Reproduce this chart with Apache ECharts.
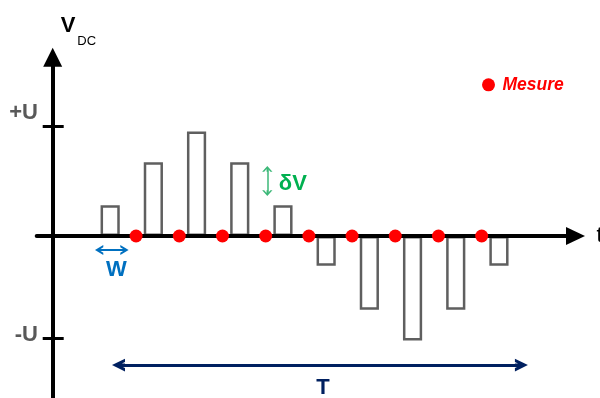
<!DOCTYPE html>
<html>
<head>
<meta charset="utf-8">
<script src="https://cdn.jsdelivr.net/npm/echarts@6/dist/echarts.min.js"></script>
<style>
html,body{margin:0;padding:0;background:#fff;}
#main{width:600px;height:398px;}
</style>
</head>
<body>
<div id="main"></div>
<script>
// ---- data ----
const pulseX = [1.33, 2.33, 3.33, 4.33, 5.33, 6.33, 7.33, 8.33, 9.33, 10.33];
const pulseV = [0.28, 0.67, 0.95, 0.67, 0.28, -0.27, -0.67, -0.95, -0.67, -0.27];
const mesureX = [1.93, 2.93, 3.93, 4.93, 5.93, 6.93, 7.93, 8.93, 9.93];
const mesureV = [0, 0, 0, 0, 0, 0, 0, 0, 0];
const tickValues = [1, -0.93];
const tickLabels = ['+U', '-U'];
const seriesName = 'Mesure';

const FONT = 'Liberation Sans, Arial, sans-serif';

function chevron(w, h, t, s) {
  const th = Math.atan((w / 2) / h);
  const v = t / Math.sin(th);
  const hx = t / Math.cos(th);
  const ys = v + (s / 2) / Math.tan(th);
  const c = w / 2;
  const pts = [[c, 0], [w, h], [w - hx, h]];
  if (ys < h) {
    pts.push([c + s / 2, ys], [c + s / 2, h], [c - s / 2, h], [c - s / 2, ys]);
  } else {
    pts.push([c, Math.min(v, h)]);
  }
  pts.push([hx, h], [0, h]);
  return 'path://M' + pts.map(p => p[0].toFixed(3) + ',' + p[1].toFixed(3)).join(' L') + ' Z';
}

function arrowLine(p1, p2, color, width, w, h) {
  const sym = chevron(w, h, width, width);
  return [
    {coord: p1, symbol: sym, symbolSize: [w, h], itemStyle: {color: color},
     lineStyle: {color: color, width: width, type: 'solid'}},
    {coord: p2, symbol: sym, symbolSize: [w, h], itemStyle: {color: color}}
  ];
}

function textPoint(coord, text, color, size) {
  return {
    coord: coord, symbol: 'circle', symbolSize: 1,
    itemStyle: {color: 'rgba(0,0,0,0)'},
    label: {show: true, position: 'inside', formatter: text, color: color,
            fontSize: size, fontWeight: 'bold', fontFamily: FONT}
  };
}

const chart = echarts.init(document.getElementById('main'), null, {renderer: 'canvas'});

const yMin = -1.4727, yMax = 1.6255;

const option = {
  animation: false,
  backgroundColor: '#ffffff',
  grid: {left: 36.7, right: 24.5, top: 57.2, bottom: 0, containLabel: false, outerBoundsMode: 'none'},
  legend: {
    data: [seriesName], left: 482, top: 75.8, padding: 0,
    itemWidth: 18, itemHeight: 13, icon: 'circle', selectedMode: false,
    itemStyle: {opacity: 1},
    textStyle: {color: '#ff0000', fontStyle: 'italic', fontWeight: 'bold', fontSize: 17.5, fontFamily: FONT}
  },
  xAxis: {
    type: 'value', min: -0.3704, max: 12.102, z: 3,
    name: 't', nameLocation: 'end', nameGap: 21,
    nameTextStyle: {color: '#000', fontSize: 22, fontFamily: FONT},
    axisLine: {show: true, onZero: true, symbol: ['none', 'triangle'], symbolSize: [18, 19],
               lineStyle: {color: '#000', width: 4}},
    axisTick: {show: false}, axisLabel: {show: false}, splitLine: {show: false}
  },
  yAxis: [{
    type: 'value', min: yMin, max: yMax, z: 3,
    name: '{v|V}{d|DC}', nameLocation: 'end', nameGap: 14.5,
    nameTextStyle: {
      align: 'left', verticalAlign: 'bottom', padding: [0, 0, 0, 8],
      rich: {
        v: {fontSize: 22, fontWeight: 'bold', color: '#000', lineHeight: 22, padding: [0, 0, 11, 0], fontFamily: FONT},
        d: {fontSize: 13, color: '#000', lineHeight: 14, padding: [19, 0, 0, 2], fontFamily: FONT}
      }
    },
    axisLine: {show: true, onZero: true, symbol: ['none', 'triangle'], symbolSize: [19, 19],
               lineStyle: {color: '#000', width: 4}},
    axisTick: {show: true, customValues: tickValues, length: 10, lineStyle: {color: '#000', width: 3}},
    axisLabel: {
      show: true, customValues: tickValues, margin: -1.3,
      formatter: function (v) {
        const i = tickValues.indexOf(v);
        return i === 0 ? '{p|' + tickLabels[0] + '}' : '{m|' + tickLabels[1] + '}';
      },
      rich: {
        p: {fontSize: 22, fontWeight: 'bold', color: '#595959', padding: [0, 0, 26, 0], fontFamily: FONT},
        m: {fontSize: 22, fontWeight: 'bold', color: '#595959', padding: [0, 0, 6, 0], fontFamily: FONT}
      }
    },
    splitLine: {show: false}
  }, {
    type: 'value', min: yMin, max: yMax, position: 'right', z: 3,
    axisLine: {show: false, onZero: true, onZeroAxisIndex: 0},
    axisTick: {show: true, customValues: tickValues, length: 11, lineStyle: {color: '#000', width: 3}},
    axisLabel: {show: false}, splitLine: {show: false}
  }],
  series: [{
    type: 'bar', name: 'pulses', z: 2,
    data: pulseX.map((x, i) => [x, pulseV[i]]),
    barWidth: 19.2,
    itemStyle: {color: 'rgba(255,255,255,0)', borderColor: '#5f5f5f', borderWidth: 2.5},
    emphasis: {disabled: true}, silent: true,
    markLine: {
      silent: true, animation: false,
      label: {show: false},
      emphasis: {disabled: true},
      data: [
        arrowLine([1.523, -1.173], [10.85, -1.173], '#002060', 3, 12.7, 13),
        arrowLine([1.075, -0.127], [1.661, -0.127], '#0070c0', 2, 10, 8.3),
        arrowLine([4.968, 0.6105], [4.968, 0.3895], '#3cb878', 1.5, 10.3, 5.7)
      ]
    },
    markPoint: {
      silent: true, animation: false,
      data: [
        textPoint([6.257, -1.382], 'T', '#002060', 22),
        textPoint([1.477, -0.309], 'W', '#0070c0', 22),
        textPoint([5.558, 0.4727], 'δV', '#00b050', 22)
      ]
    }
  }, {
    type: 'scatter', name: seriesName, z: 5,
    data: mesureX.map((x, i) => [x, mesureV[i]]),
    symbol: 'circle', symbolSize: 13,
    itemStyle: {color: '#ff0000', opacity: 1},
    emphasis: {disabled: true}, silent: true
  }]
};

chart.setOption(option);
</script>
</body>
</html>
